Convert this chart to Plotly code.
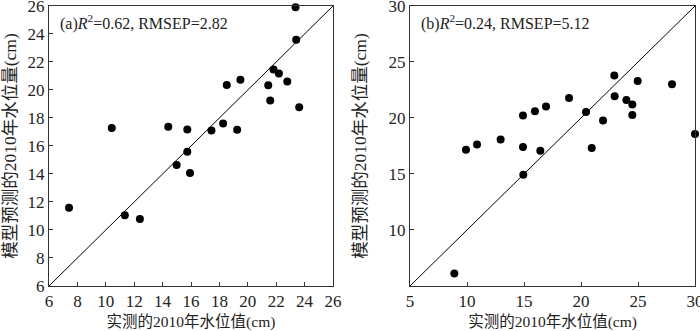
"""模型预测值与实测值散点对比图."""

import plotly.graph_objects as go
from plotly.subplots import make_subplots

# (a) 面板数据
obs_a = [10.42, 23.36, 23.41, 18.52, 19.48, 21.44, 21.81, 22.19, 22.78, 21.58, 23.62,
         14.40, 15.74, 17.44, 18.26, 19.25, 15.74, 14.99, 15.93, 7.41, 11.34, 12.40]
pred_a = [17.29, 25.90, 23.58, 20.35, 20.73, 20.33, 21.47, 21.17, 20.61, 19.25, 18.76,
          17.38, 17.17, 17.10, 17.61, 17.15, 15.58, 14.64, 14.07, 11.58, 11.05, 10.79]

# (b) 面板数据
obs_b = [9.91, 10.88, 12.95, 14.91, 14.91, 15.96, 16.93, 16.43, 18.95, 20.44, 20.94,
         21.93, 22.92, 22.95, 23.98, 24.50, 24.50, 24.97, 27.98, 30.00, 14.94, 8.89]
pred_b = [17.16, 17.63, 18.07, 20.23, 17.40, 20.61, 21.02, 17.08, 21.78, 20.53, 17.31,
          19.77, 23.80, 21.93, 21.61, 21.20, 20.26, 23.30, 23.01, 18.57, 14.94, 6.12]

range_a = [6, 26]
range_b = [5, 30]
ticks_a = [6, 8, 10, 12, 14, 16, 18, 20, 22, 24, 26]
ticks_b = [5, 10, 15, 20, 25, 30]
yticks_b = [10, 15, 20, 25, 30]
label_a = "(a)<i>R</i><sup>2</sup>=0.62, RMSEP=2.82"
label_b = "(b)<i>R</i><sup>2</sup>=0.24, RMSEP=5.12"

x_title = "实测的2010年水位值(cm)"
y_title = "模型预测的2010年水位量(cm)"

FONT = "Liberation Serif, Times New Roman, Noto Sans CJK SC, serif"
TXT = "#222222"

fig = make_subplots(rows=1, cols=2)

for col, (xs, ys, rng) in enumerate([(obs_a, pred_a, range_a), (obs_b, pred_b, range_b)], start=1):
    fig.add_trace(
        go.Scatter(x=rng, y=rng, mode="lines", line=dict(color="black", width=1),
                   showlegend=False, hoverinfo="skip"),
        row=1, col=col,
    )
    fig.add_trace(
        go.Scatter(x=xs, y=ys, mode="markers", marker=dict(color="black", size=8),
                   showlegend=False, cliponaxis=False),
        row=1, col=col,
    )

axis_style = dict(
    showline=True, mirror=True, linecolor="#333333", linewidth=1,
    ticks="inside", ticklen=4, tickcolor="#333333", showgrid=False, zeroline=False,
    tickfont=dict(size=17, family=FONT, color=TXT), automargin=False,
    ticklabeloverflow="allow",
)
x_title_font = dict(size=15.5, family=FONT, color=TXT)
y_title_font = dict(size=17.5, family=FONT, color=TXT)

fig.update_xaxes(axis_style)
fig.update_yaxes(axis_style)
fig.update_xaxes(range=range_a, tickvals=ticks_a, domain=[0.070, 0.4757],
                 title=dict(text=x_title, standoff=6, font=x_title_font),
                 row=1, col=1)
fig.update_yaxes(range=range_a, tickvals=ticks_a,
                 title=dict(text=y_title, standoff=8, font=y_title_font),
                 row=1, col=1)
fig.update_xaxes(range=range_b, tickvals=ticks_b, domain=[0.5857, 0.9929],
                 title=dict(text=x_title, standoff=6, font=x_title_font),
                 row=1, col=2)
fig.update_yaxes(range=range_b, tickvals=yticks_b,
                 title=dict(text=y_title, standoff=17, font=y_title_font),
                 row=1, col=2)

fig.update_layout(
    yaxis=dict(domain=[0.136, 0.982]),
    yaxis2=dict(domain=[0.136, 0.982]),
    width=700,
    height=331,
    margin=dict(l=0, r=0, t=0, b=0),
    paper_bgcolor="white",
    plot_bgcolor="white",
    font=dict(family=FONT, size=15, color=TXT),
    showlegend=False,
)

for xref, yref, text in [("x domain", "y domain", label_a), ("x2 domain", "y2 domain", label_b)]:
    fig.add_annotation(
        x=0.03, y=0.985, xref=xref, yref=yref, text=text, showarrow=False,
        xanchor="left", yanchor="top", font=dict(size=16, family=FONT, color=TXT),
    )

# 去掉页面默认边距, 让图表贴齐窗口
fig.write_html(
    "out.html",
    config={"displayModeBar": False},
    post_script="document.body.style.margin='0px';",
)
